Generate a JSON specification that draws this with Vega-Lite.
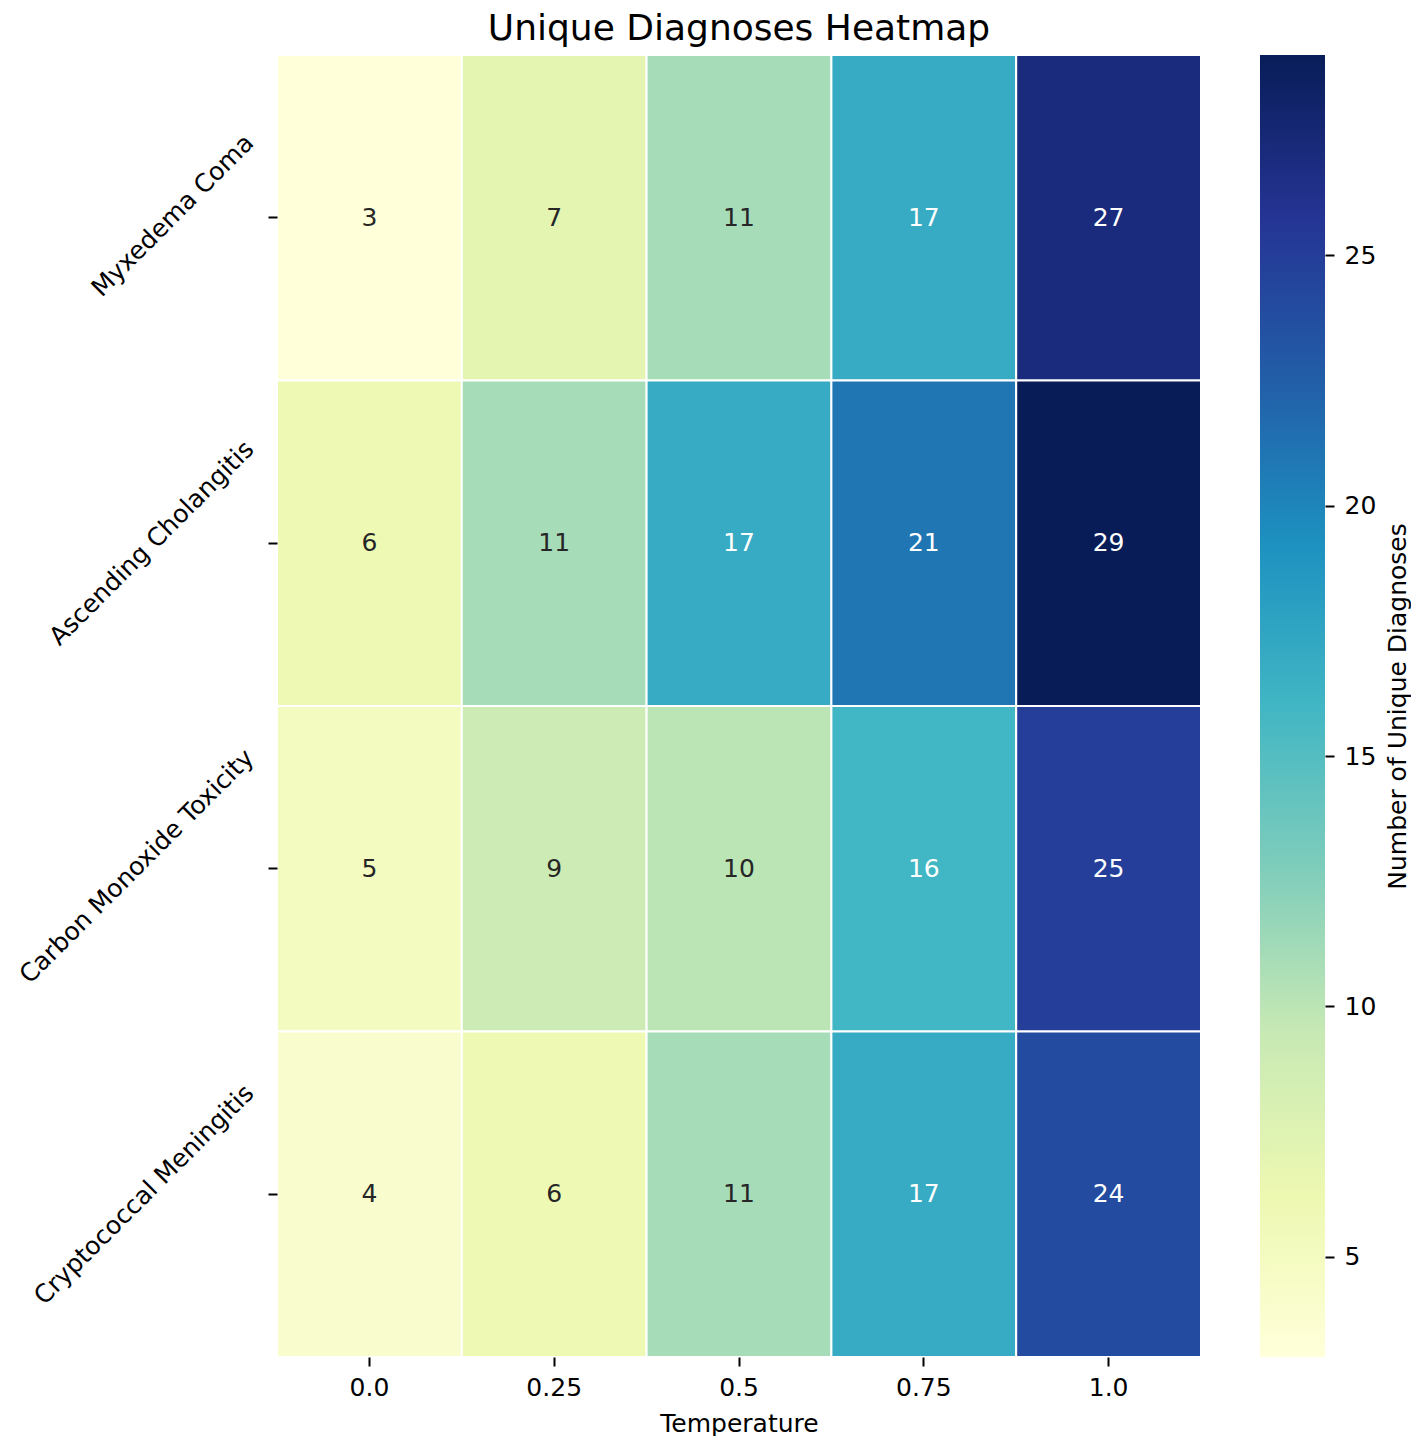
{
  "$schema": "https://vega.github.io/schema/vega-lite/v6.json",
  "padding": {"left": 15, "top": 11, "right": 0, "bottom": 0},
  "background": "white",
  "config": {"font": "DejaVu Sans", "view": {"stroke": null}},
  "bounds": "flush",
  "spacing": 59,
  "hconcat": [
    {
      "width": 924,
      "height": 1302,
      "title": {"text": "Unique Diagnoses Heatmap", "fontSize": 36, "fontWeight": "normal", "color": "#000000", "offset": 6, "anchor": "middle"},
      "data": {
        "values": [
          {"Diagnosis": "Myxedema Coma", "Temperature": "0.0", "Count": 3},
          {"Diagnosis": "Myxedema Coma", "Temperature": "0.25", "Count": 7},
          {"Diagnosis": "Myxedema Coma", "Temperature": "0.5", "Count": 11},
          {"Diagnosis": "Myxedema Coma", "Temperature": "0.75", "Count": 17},
          {"Diagnosis": "Myxedema Coma", "Temperature": "1.0", "Count": 27},
          {"Diagnosis": "Ascending Cholangitis", "Temperature": "0.0", "Count": 6},
          {"Diagnosis": "Ascending Cholangitis", "Temperature": "0.25", "Count": 11},
          {"Diagnosis": "Ascending Cholangitis", "Temperature": "0.5", "Count": 17},
          {"Diagnosis": "Ascending Cholangitis", "Temperature": "0.75", "Count": 21},
          {"Diagnosis": "Ascending Cholangitis", "Temperature": "1.0", "Count": 29},
          {"Diagnosis": "Carbon Monoxide Toxicity", "Temperature": "0.0", "Count": 5},
          {"Diagnosis": "Carbon Monoxide Toxicity", "Temperature": "0.25", "Count": 9},
          {"Diagnosis": "Carbon Monoxide Toxicity", "Temperature": "0.5", "Count": 10},
          {"Diagnosis": "Carbon Monoxide Toxicity", "Temperature": "0.75", "Count": 16},
          {"Diagnosis": "Carbon Monoxide Toxicity", "Temperature": "1.0", "Count": 25},
          {"Diagnosis": "Cryptococcal Meningitis", "Temperature": "0.0", "Count": 4},
          {"Diagnosis": "Cryptococcal Meningitis", "Temperature": "0.25", "Count": 6},
          {"Diagnosis": "Cryptococcal Meningitis", "Temperature": "0.5", "Count": 11},
          {"Diagnosis": "Cryptococcal Meningitis", "Temperature": "0.75", "Count": 17},
          {"Diagnosis": "Cryptococcal Meningitis", "Temperature": "1.0", "Count": 24}
        ]
      },
      "encoding": {
        "x": {
          "field": "Temperature", "type": "ordinal",
          "sort": ["0.0", "0.25", "0.5", "0.75", "1.0"],
          "scale": {"paddingInner": 0, "paddingOuter": 0},
          "axis": {
            "title": "Temperature", "titleFontSize": 25, "titleFontWeight": "normal", "titleColor": "#000000", "titlePadding": 11,
            "labelAngle": 0, "labelFontSize": 25, "labelColor": "#000000", "labelPadding": 9,
            "tickSize": 9, "tickWidth": 2, "tickColor": "#000000", "domain": false, "grid": false
          }
        },
        "y": {
          "field": "Diagnosis", "type": "nominal",
          "sort": ["Myxedema Coma", "Ascending Cholangitis", "Carbon Monoxide Toxicity", "Cryptococcal Meningitis"],
          "scale": {"paddingInner": 0, "paddingOuter": 0},
          "axis": {
            "title": null, "domain": false, "grid": false,
            "tickSize": 9, "tickWidth": 2, "tickColor": "#000000",
            "labelAngle": -45, "labelAlign": "right", "labelBaseline": "middle",
            "labelFontSize": 25, "labelColor": "#000000", "labelPadding": 19, "labelLimit": 0,
            "labelOffset": {
              "condition": [
                {"test": "datum.value === 'Myxedema Coma'", "value": -79},
                {"test": "datum.value === 'Ascending Cholangitis'", "value": -98},
                {"test": "datum.value === 'Carbon Monoxide Toxicity'", "value": -115}
              ],
              "value": -105
            }
          }
        }
      },
      "layer": [
        {
          "mark": {"type": "rect", "stroke": "white", "strokeWidth": 2},
          "encoding": {
            "color": {
              "field": "Count", "type": "quantitative", "legend": null,
              "scale": {
                "type": "linear",
                "domain": [3, 6.25, 9.5, 12.75, 16, 19.25, 22.5, 25.75, 29],
                "range": ["#ffffd9", "#edf8b1", "#c7e9b4", "#7fcdbb", "#41b6c4", "#1d91c0", "#225ea8", "#253494", "#081d58"],
                "interpolate": "rgb"
              }
            }
          }
        },
        {
          "mark": {"type": "text", "fontSize": 25, "align": "center", "baseline": "middle"},
          "encoding": {
            "text": {"field": "Count", "type": "quantitative"},
            "color": {"condition": {"test": "datum.Count >= 14", "value": "#ffffff"}, "value": "#262626"}
          }
        }
      ]
    },
    {
      "width": 65,
      "height": 1302,
      "data": {"values": [{"lo": 3, "hi": 29}]},
      "mark": {
        "type": "rect",
        "fill": {
          "gradient": "linear", "x1": 0, "y1": 1, "x2": 0, "y2": 0,
          "stops": [
            {"offset": 0, "color": "#ffffd9"},
            {"offset": 0.125, "color": "#edf8b1"},
            {"offset": 0.25, "color": "#c7e9b4"},
            {"offset": 0.375, "color": "#7fcdbb"},
            {"offset": 0.5, "color": "#41b6c4"},
            {"offset": 0.625, "color": "#1d91c0"},
            {"offset": 0.75, "color": "#225ea8"},
            {"offset": 0.875, "color": "#253494"},
            {"offset": 1, "color": "#081d58"}
          ]
        }
      },
      "encoding": {
        "y": {
          "field": "lo", "type": "quantitative",
          "scale": {"domain": [3, 29], "nice": false, "zero": false},
          "axis": {
            "orient": "right", "values": [5, 10, 15, 20, 25], "format": "d",
            "title": "Number of Unique Diagnoses", "titleAngle": 270, "titleBaseline": "top",
            "titleFontSize": 25, "titleFontWeight": "normal", "titleColor": "#000000", "titlePadding": 10,
            "labelFontSize": 25, "labelColor": "#000000", "labelPadding": 10, "labelFlush": false, "labelOverlap": false,
            "tickSize": 9, "tickWidth": 2, "tickColor": "#000000", "domain": false, "grid": false
          }
        },
        "y2": {"field": "hi"}
      }
    }
  ]
}
